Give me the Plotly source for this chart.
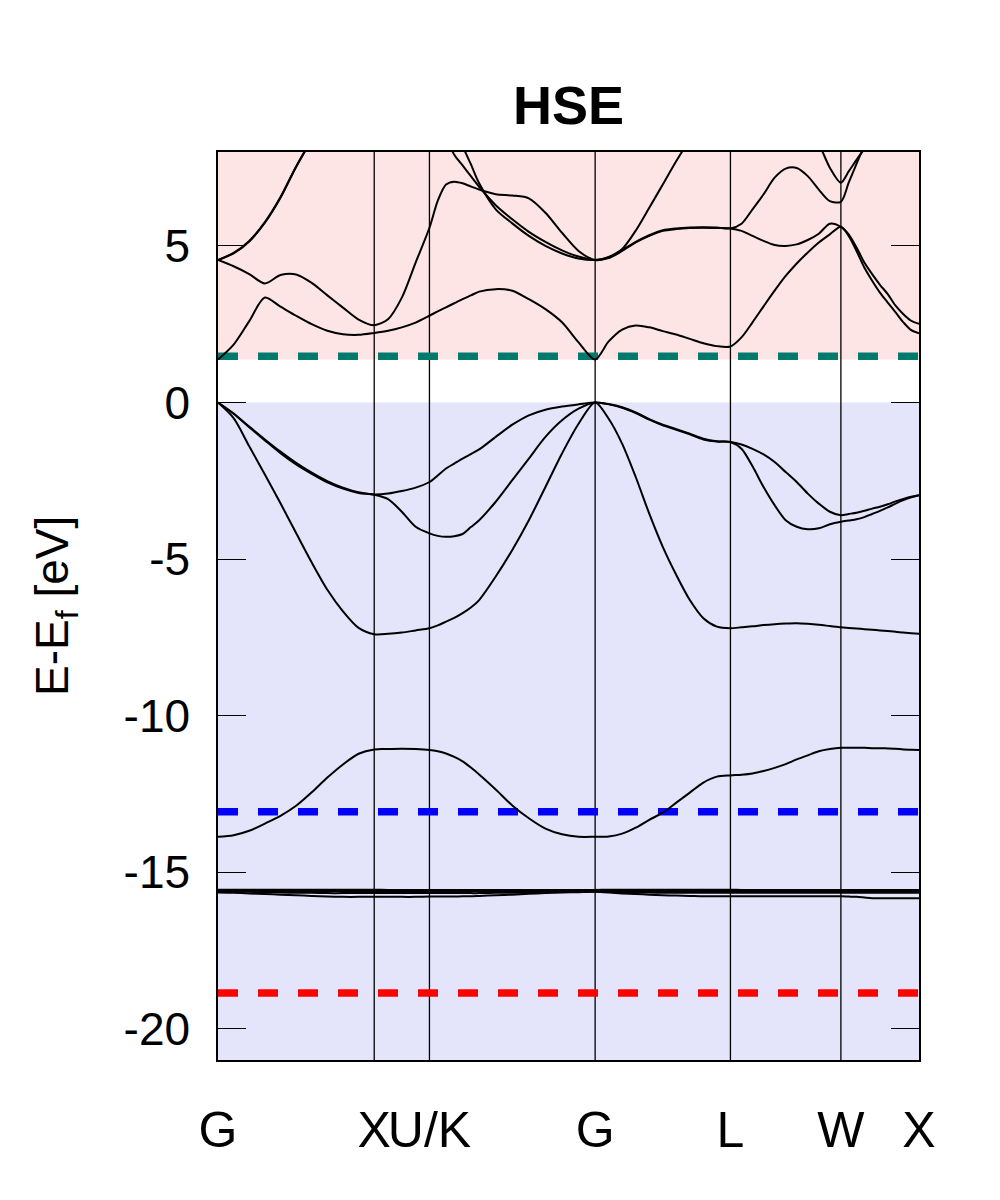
import numpy as np
import plotly.graph_objects as go

# ---------------- data ----------------
KLABELS = ["G", "X", "U/K", "G", "L", "W", "X"]
# k-path segment lengths (units of 2pi/a): G-X, X-U, K-G, G-L, L-W, W-X
SEG_LEN = [1.0, 0.35355, 1.06066, 0.86603, 0.70711, 0.5]
# sampling fractions along each segment
F10 = [0, .1, .2, .3, .4, .5, .6, .7, .8, .9, 1]
F_XU = [0, .25, .5, .75, 1]
F_KG = [0, .05, .1, .15, .2, .25, .3, .4, .5, .6, .7, .8, .9, 1]
SEG_FRACS = [F10, F_XU, F_KG, F10, F10, F10]

E_VBM = 0.0
E_CBM = 1.37
E_LINE_CB = 1.48
E_LINE_BLUE = -13.07
E_LINE_RED = -18.86
Y_MIN, Y_MAX = -21, 8
YTICKS = [-20, -15, -10, -5, 0, 5]

# bands: values per segment [G-X, X-U, K-G, G-L, L-W, W-X]
vb_s = [
    [-13.87, -13.82, -13.68, -13.45, -13.20, -12.88, -12.45, -11.98, -11.56, -11.22, -11.08],
    [-11.08, -11.07, -11.06, -11.07, -11.10],
    [-11.10, -11.14, -11.21, -11.32, -11.46, -11.66, -11.88, -12.36, -12.87, -13.28, -13.61, -13.79, -13.87, -13.87],
    [-13.87, -13.86, -13.77, -13.58, -13.33, -13.10, -12.78, -12.46, -12.14, -11.95, -11.91],
    [-11.91, -11.89, -11.85, -11.77, -11.67, -11.55, -11.40, -11.27, -11.14, -11.07, -11.03],
    [-11.03, -11.03, -11.03, -11.03, -11.04, -11.04, -11.05, -11.06, -11.08, -11.09, -11.10],
]
vb_1 = [
    [0, -0.50, -1.40, -2.30, -3.22, -4.17, -5.11, -5.98, -6.67, -7.20, -7.40],
    [-7.40, -7.39, -7.35, -7.28, -7.21],
    [-7.21, -7.12, -7.00, -6.88, -6.73, -6.55, -6.31, -5.56, -4.71, -3.76, -2.70, -1.63, -0.68, 0],
    [0, -0.52, -1.32, -2.38, -3.55, -4.61, -5.51, -6.31, -6.89, -7.16, -7.21],
    [-7.21, -7.18, -7.15, -7.11, -7.08, -7.06, -7.05, -7.07, -7.10, -7.14, -7.18],
    [-7.18, -7.20, -7.22, -7.24, -7.26, -7.28, -7.30, -7.32, -7.35, -7.37, -7.39],
]
vb_2 = [
    [0, -0.36, -0.79, -1.21, -1.62, -1.98, -2.28, -2.55, -2.75, -2.89, -2.95],
    [-2.95, -3.09, -3.49, -3.97, -4.18],
    [-4.18, -4.26, -4.29, -4.27, -4.20, -3.98, -3.76, -3.17, -2.48, -1.79, -1.10, -0.57, -0.20, 0],
    [0, -0.06, -0.17, -0.34, -0.55, -0.73, -0.87, -1.02, -1.18, -1.25, -1.26],
    [-1.26, -1.48, -2.04, -2.70, -3.28, -3.76, -3.97, -4.05, -4.02, -3.89, -3.81],
    [-3.81, -3.77, -3.73, -3.66, -3.56, -3.46, -3.35, -3.23, -3.12, -3.03, -2.96],
]
vb_3 = [
    [0, -0.35, -0.77, -1.18, -1.57, -1.93, -2.24, -2.51, -2.72, -2.87, -2.94],
    [-2.94, -2.91, -2.83, -2.72, -2.54],
    [-2.54, -2.33, -2.11, -1.95, -1.79, -1.65, -1.50, -1.10, -0.71, -0.41, -0.23, -0.13, -0.06, 0],
    [0, -0.05, -0.15, -0.32, -0.53, -0.71, -0.85, -1.00, -1.16, -1.24, -1.26],
    [-1.26, -1.34, -1.48, -1.66, -1.90, -2.22, -2.54, -2.91, -3.23, -3.49, -3.60],
    [-3.60, -3.56, -3.52, -3.46, -3.39, -3.33, -3.25, -3.16, -3.08, -3.01, -2.96],
]
d_1 = [
    [-15.65, -15.66, -15.68, -15.70, -15.72, -15.74, -15.76, -15.78, -15.79, -15.79, -15.79],
    [-15.79, -15.79, -15.79, -15.79, -15.78],
    [-15.78, -15.78, -15.78, -15.78, -15.77, -15.77, -15.76, -15.74, -15.72, -15.69, -15.67, -15.65, -15.64, -15.63],
    [-15.63, -15.65, -15.68, -15.70, -15.72, -15.74, -15.75, -15.76, -15.77, -15.77, -15.77],
    [-15.77, -15.77, -15.77, -15.77, -15.77, -15.77, -15.77, -15.77, -15.77, -15.77, -15.77],
    [-15.77, -15.78, -15.79, -15.81, -15.83, -15.83, -15.83, -15.83, -15.83, -15.83, -15.83],
]
d_2 = [
    [-15.62, -15.62, -15.63, -15.64, -15.65, -15.66, -15.66, -15.67, -15.67, -15.67, -15.67],
    [-15.67, -15.67, -15.67, -15.67, -15.67],
    [-15.67, -15.67, -15.67, -15.67, -15.67, -15.67, -15.67, -15.66, -15.66, -15.65, -15.64, -15.63, -15.62, -15.62],
    [-15.62, -15.63, -15.64, -15.65, -15.65, -15.66, -15.66, -15.66, -15.66, -15.66, -15.66],
    [-15.66, -15.66, -15.66, -15.66, -15.66, -15.66, -15.66, -15.66, -15.66, -15.66, -15.66],
    [-15.66, -15.66, -15.66, -15.66, -15.66, -15.66, -15.66, -15.66, -15.66, -15.66, -15.66],
]
d_3 = [
    [-15.60] * 11, [-15.61] * 5, [-15.61] * 14, [-15.60] * 11, [-15.61] * 11, [-15.61] * 11,
]
d_4 = [
    [-15.58] * 11, [-15.58] * 5, [-15.58] * 14, [-15.58] * 11, [-15.58] * 11, [-15.58] * 11,
]
d_5 = [
    [-15.56] * 11, [-15.57] * 5, [-15.57] * 14, [-15.56] * 11, [-15.57] * 11, [-15.57] * 11,
]
cb_1 = [
    [1.37, 1.85, 2.60, 3.35, 3.06, 2.77, 2.50, 2.29, 2.18, 2.16, 2.22],
    [2.22, 2.29, 2.40, 2.55, 2.77],
    [2.77, 2.91, 3.04, 3.17, 3.30, 3.42, 3.54, 3.62, 3.57, 3.30, 2.98, 2.56, 1.92, 1.37],
    [1.37, 1.95, 2.33, 2.46, 2.40, 2.28, 2.17, 2.03, 1.89, 1.80, 1.79],
    [1.79, 2.08, 2.56, 3.07, 3.57, 4.04, 4.44, 4.79, 5.11, 5.37, 5.61],
    [5.61, 5.32, 4.84, 4.31, 3.89, 3.51, 3.19, 2.88, 2.56, 2.31, 2.21],
]
cb_2 = [
    [4.55, 4.35, 4.10, 3.80, 4.07, 4.09, 3.82, 3.42, 3.03, 2.65, 2.47],
    [2.47, 2.66, 3.35, 4.47, 5.58],
    [5.58, 6.44, 6.96, 7.05, 7.00, 6.90, 6.80, 6.65, 6.61, 6.52, 6.06, 5.42, 4.84, 4.55],
    [4.55, 4.61, 4.84, 5.11, 5.32, 5.48, 5.54, 5.57, 5.58, 5.57, 5.56],
    [5.56, 5.48, 5.32, 5.16, 5.03, 5.00, 5.05, 5.19, 5.39, 5.71, 5.61],
    [5.61, 5.37, 4.95, 4.47, 4.10, 3.76, 3.46, 3.09, 2.82, 2.61, 2.51],
]
cb_3 = [
    [4.55, 4.78, 5.16, 5.76, 6.56, 7.54, 8.40, 9.20, 9.90, 10.40, 10.60],
    [10.60, 10.70, 10.80, 10.90, 11.00],
    [11.00, 10.50, 9.80, 9.00, 8.20, 7.61, 7.00, 6.17, 5.72, 5.32, 5.00, 4.76, 4.60, 4.55],
    [4.55, 4.63, 4.86, 5.13, 5.34, 5.50, 5.56, 5.59, 5.60, 5.59, 5.56],
    [5.56, 5.71, 6.17, 6.65, 7.18, 7.47, 7.49, 7.23, 6.80, 6.43, 6.41],
    [6.41, 7.02, 7.62, 8.20, 8.70, 9.10, 9.40, 9.60, 9.70, 9.75, 9.80],
]
cb_4 = [
    [4.55, 4.76, 5.14, 5.74, 6.54, 7.52, 8.38, 9.15, 9.80, 10.20, 10.40],
    [10.40, 10.35, 10.30, 10.25, 10.20],
    [10.20, 9.30, 8.50, 7.91, 7.57, 7.23, 6.89, 6.30, 5.85, 5.45, 5.13, 4.86, 4.66, 4.55],
    [4.55, 4.65, 4.90, 5.49, 6.22, 6.96, 7.71, 8.40, 9.00, 9.50, 9.80],
    [9.80, 9.90, 10.00, 10.00, 9.90, 9.60, 9.20, 8.70, 8.25, 7.50, 7.02],
    [7.02, 7.38, 7.75, 8.10, 8.50, 8.90, 9.20, 9.40, 9.50, 9.55, 9.60],
]
BANDS = [d_1, d_2, d_3, d_4, d_5, vb_s, vb_1, vb_2, vb_3, cb_1, cb_2, cb_3, cb_4]

# ---------------- build ----------------
k_nodes = np.concatenate([[0.0], np.cumsum(SEG_LEN)])
K_END = float(k_nodes[-1])


def band_xy(band):
    xs, ys = [], []
    for i, (vals, fr) in enumerate(zip(band, SEG_FRACS)):
        kx = k_nodes[i] + np.array(fr) * SEG_LEN[i]
        start = 0 if i == 0 else 1
        xs.extend(kx[start:].tolist())
        ys.extend(vals[start:])
    return xs, ys


FONT = "Liberation Sans, Arial, Helvetica, sans-serif"
fig = go.Figure()
for b in BANDS:
    x, y = band_xy(b)
    fig.add_trace(go.Scatter(x=x, y=y, mode="lines",
                             line=dict(color="black", width=2, shape="spline", smoothing=0.8),
                             hoverinfo="skip", showlegend=False))

shapes = [
    dict(type="rect", xref="x", yref="y", x0=0, x1=K_END, y0=E_CBM, y1=Y_MAX,
         fillcolor="rgb(253,229,229)", line=dict(width=0), layer="below"),
    dict(type="rect", xref="x", yref="y", x0=0, x1=K_END, y0=Y_MIN, y1=E_VBM,
         fillcolor="rgb(228,228,251)", line=dict(width=0), layer="below"),
]
for kv in k_nodes[1:-1]:
    shapes.append(dict(type="line", xref="x", yref="y", x0=kv, x1=kv, y0=Y_MIN, y1=Y_MAX,
                       line=dict(color="black", width=1.3), layer="below"))
for ev, col in [(E_LINE_CB, "rgb(0,122,108)"), (E_LINE_BLUE, "rgb(0,0,255)"), (E_LINE_RED, "rgb(255,0,0)")]:
    shapes.append(dict(type="line", xref="x", yref="y", x0=0, x1=K_END, y0=ev, y1=ev,
                       line=dict(color=col, width=7.5, dash="20px,20px"), layer="below"))

fig.update_layout(
    width=1000, height=1200,
    margin=dict(l=210, r=89, t=144, b=148),
    plot_bgcolor="white", paper_bgcolor="white",
    font=dict(family=FONT, color="black"),
    title=dict(text="<b>HSE</b>", x=0.5, xref="paper", xanchor="center",
               y=1 - 97 / 1200, yref="container", yanchor="middle",
               font=dict(size=54, family=FONT, color="black")),
    shapes=shapes,
    showlegend=False,
)
fig.update_xaxes(range=[0, K_END], tickvals=k_nodes.tolist(), ticktext=KLABELS,
                 ticks="", showgrid=False, zeroline=False, showline=True, mirror=True,
                 linecolor="black", linewidth=1.5, tickangle=0,
                 tickfont=dict(size=50, family=FONT, color="black"), ticklabelstandoff=25)
fig.update_yaxes(range=[Y_MIN, Y_MAX], tickvals=YTICKS, ticktext=[str(v) for v in YTICKS],
                 ticks="inside", ticklen=28, tickwidth=1.3, tickcolor="black",
                 showgrid=False, zeroline=False, showline=True, mirror="ticks",
                 linecolor="black", linewidth=1.5,
                 tickfont=dict(size=46, family=FONT, color="black"), ticklabelstandoff=17)
fig.add_annotation(text="E-E<sub>f</sub> [eV]", xref="paper", yref="paper",
                   x=(47 - 210) / 701, y=0.5, xanchor="center", yanchor="middle",
                   textangle=-90, showarrow=False,
                   font=dict(size=46, family=FONT, color="black"))

fig.write_html("out.html")
